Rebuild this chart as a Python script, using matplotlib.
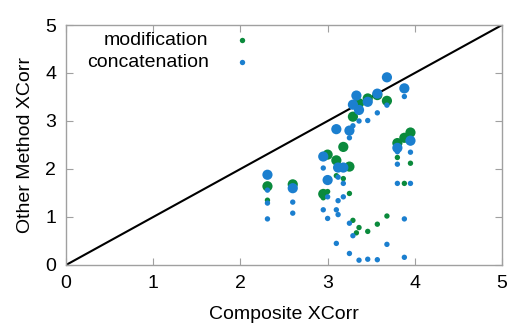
import matplotlib
matplotlib.use("Agg")
import matplotlib.pyplot as plt

# values (Composite XCorr vs other method XCorr)
mod_x = [2.31, 2.31, 2.60, 2.95, 2.95, 3.00, 3.00, 3.10, 3.10, 3.18, 3.18,
         3.25, 3.25, 3.29, 3.29, 3.33, 3.36, 3.36, 3.46, 3.46, 3.57, 3.57,
         3.68, 3.68, 3.80, 3.80, 3.88, 3.88, 3.95, 3.95]
mod_y = [1.64, 1.35, 1.68, 1.48, 1.40, 2.30, 1.53, 2.18, 1.86, 2.46, 1.80,
         2.05, 1.49, 3.09, 0.93, 0.67, 3.37, 0.78, 3.47, 0.70, 3.54, 0.85,
         3.42, 1.02, 2.54, 2.24, 2.65, 1.70, 2.76, 2.12]
mod_big = [1, 0, 1, 1, 0, 1, 0, 1, 0, 1, 0,
           1, 0, 1, 0, 0, 1, 0, 1, 0, 1, 0,
           1, 0, 1, 0, 1, 0, 1, 0]

cat_x = [2.31, 2.31, 2.31, 2.31, 2.60, 2.60, 2.60, 2.95, 2.95, 2.95,
         3.00, 3.00, 3.00, 3.10, 3.12, 3.12, 3.10, 3.10, 3.12, 3.12,
         3.18, 3.18, 3.18, 3.25, 3.25, 3.25, 3.25, 3.29, 3.29, 3.29,
         3.33, 3.36, 3.36, 3.36, 3.46, 3.46, 3.46, 3.57, 3.57, 3.57,
         3.68, 3.68, 3.68, 3.80, 3.80, 3.80, 3.80, 3.88, 3.88, 3.88,
         3.88, 3.95, 3.95, 3.95, 3.95]
cat_y = [1.88, 1.56, 1.29, 0.96, 1.60, 1.31, 1.08, 2.26, 2.02, 1.15,
         1.77, 1.42, 0.97, 2.83, 2.03, 1.83, 1.15, 0.45, 1.34, 1.05,
         2.03, 1.70, 1.42, 2.80, 2.65, 0.87, 0.24, 3.34, 2.90, 0.61,
         3.53, 3.23, 3.00, 0.10, 3.40, 3.01, 0.12, 3.57, 3.17, 0.11,
         3.91, 3.33, 0.43, 2.44, 2.36, 2.10, 1.70, 3.68, 3.51, 0.96,
         0.16, 2.59, 2.35, 1.70, 2.55]
cat_big = [1, 0, 0, 0, 1, 0, 0, 1, 0, 0,
           1, 0, 0, 1, 1, 0, 0, 0, 0, 0,
           1, 0, 0, 1, 0, 0, 0, 1, 0, 0,
           1, 1, 0, 0, 1, 0, 0, 1, 0, 0,
           1, 0, 0, 1, 0, 0, 0, 1, 0, 0,
           0, 1, 0, 0, 0]

GREEN = "#0a8a3c"
BLUE = "#1b7fcf"
BIG, SMALL = 54, 15

plt.rcParams["font.family"] = ["Liberation Sans", "DejaVu Sans"]
plt.rcParams["font.size"] = 14

fig = plt.figure(figsize=(5.13, 3.23), dpi=100)
ax = fig.add_axes([0.1287, 0.1796, 0.8499, 0.743])

ax.plot([0, 5], [0, 5], color="black", linewidth=1.5, zorder=1)

ax.scatter(mod_x, mod_y, s=[BIG if b else SMALL for b in mod_big],
           color=GREEN, linewidths=0, zorder=2)
ax.scatter(cat_x, cat_y, s=[BIG if b else SMALL for b in cat_big],
           color=BLUE, linewidths=0, zorder=3)

# legend entries with small markers, text on the left
ax.scatter([], [], s=SMALL, color=GREEN, linewidths=0, label="modification")
ax.scatter([], [], s=SMALL, color=BLUE, linewidths=0, label="concatenation")
ax.legend(loc="upper right", bbox_to_anchor=(0.4475, 0.975), markerfirst=False,
          frameon=False, handletextpad=0.7, labelspacing=0.25,
          borderpad=0, borderaxespad=0, fontsize=14)

ax.set_xlim(0, 5)
ax.set_ylim(0, 5)
ax.set_xticks(range(6))
ax.set_yticks(range(6))
ax.set_xlabel("Composite XCorr", labelpad=10)
ax.set_ylabel("Other Method XCorr", labelpad=8)
ax.tick_params(direction="in", length=5, color="#a0a0a0", top=True, right=True,
               pad=7)
for side in ax.spines.values():
    side.set_color("#a0a0a0")
    side.set_linewidth(1.0)

fig.savefig("out.png", dpi=100)
